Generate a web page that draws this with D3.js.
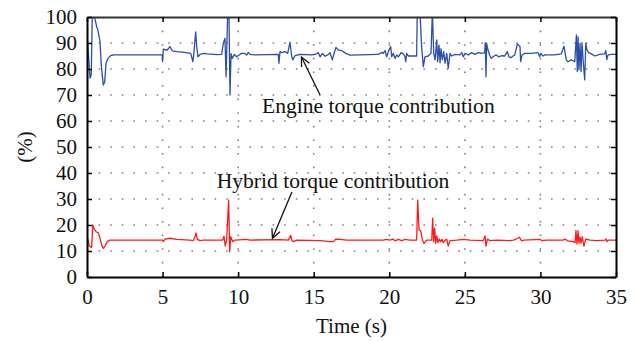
<!DOCTYPE html>
<html>
<head>
<meta charset="utf-8">
<script src="https://cdn.jsdelivr.net/npm/d3@7"></script>
<style>
  body { margin: 0; background: #fff; }
  svg { display: block; font-family: "Liberation Serif", "DejaVu Serif", serif; }
</style>
</head>
<body>
<svg id="chart" width="639" height="342"></svg>
<script>
// torque contribution traces, [time s, percent]
var engineData = [
  [0, 93.8], [0.2, 76.5], [0.28, 77.7], [0.35, 101], [0.46, 101], [0.64, 96.3], [0.72, 95.0],
  [0.86, 90.5], [0.95, 80.9], [1.08, 73.8], [1.17, 75.1], [1.26, 82.2], [1.39, 84.1], [1.56, 85.1],
  [1.79, 85.4], [4.98, 85.4], [5.0, 82.8], [5.05, 87.6], [5.31, 87.3], [5.49, 88.6], [5.64, 87.0],
  [5.97, 86.7], [6.42, 86.4], [6.86, 86.0], [7.01, 82.8], [7.08, 86.7], [7.19, 94.3], [7.26, 88.6],
  [7.34, 84.7], [7.48, 85.6], [7.74, 86.0], [7.96, 85.8], [8.62, 85.5], [8.91, 85.6], [9.02, 89.9],
  [9.13, 91.8], [9.2, 77.0], [9.31, 102], [9.39, 102], [9.46, 70.0], [9.53, 85.9], [9.61, 84.1],
  [9.75, 85.6], [9.9, 84.7], [10.06, 85.4], [10.23, 86.0], [10.45, 86.0], [10.57, 85.4], [10.67, 86.4],
  [10.78, 85.6], [11.12, 85.4], [12.66, 85.6], [12.70, 82.2], [12.77, 86.7], [12.92, 86.3], [13.1, 86.7],
  [13.28, 86.0], [13.43, 90.3], [13.54, 85.1], [13.61, 83.5], [13.76, 85.1], [14.09, 85.6], [14.87, 85.4],
  [15.09, 85.6], [15.3, 86.3], [15.42, 84.7], [15.57, 86.0], [15.75, 84.9], [15.92, 85.4], [16.08, 86.3],
  [16.23, 83.5], [16.36, 86.3], [16.47, 88.3], [16.63, 87.3], [16.85, 87.1], [17.12, 86.0], [17.4, 85.3],
  [19.27, 85.6], [19.5, 86.4], [19.6, 86.0], [19.72, 87.1], [19.83, 84.7], [19.94, 86.7], [20.09, 88.6],
  [20.16, 84.7], [20.27, 86.0], [20.38, 84.1], [20.49, 85.4], [20.6, 84.7], [20.78, 86.3], [20.93, 85.8],
  [21.04, 84.7], [21.09, 82.8], [21.15, 86.0], [21.26, 85.0], [21.81, 85.0], [21.85, 102], [22.03, 102],
  [22.14, 88.6], [22.25, 80.9], [22.36, 84.7], [22.58, 85.0], [22.76, 86.0], [22.85, 102], [22.94, 86.0],
  [23.03, 83.5], [23.14, 91.2], [23.2, 82.8], [23.29, 89.2], [23.36, 82.4], [23.42, 87.8], [23.51, 83.5],
  [23.6, 86.7], [23.69, 82.2], [23.8, 86.0], [23.9, 80.3], [24.02, 86.0], [24.13, 85.0], [24.35, 85.6],
  [24.68, 85.4], [24.79, 86.3], [24.9, 84.7], [25.01, 86.0], [25.23, 85.4], [25.45, 86.3], [25.67, 85.6],
  [25.89, 86.3], [26.09, 86.0], [26.31, 86.3], [26.35, 90.1], [26.4, 77.0], [26.44, 89.9], [26.53, 87.3],
  [26.64, 85.4], [26.75, 84.1], [26.93, 85.0], [27.08, 85.4], [27.24, 84.7], [27.41, 85.1], [27.64, 85.0],
  [27.81, 86.7], [27.92, 84.7], [28.07, 84.4], [28.19, 85.0], [28.3, 85.4], [28.47, 89.6], [28.56, 89.2],
  [28.65, 88.6], [28.69, 82.8], [28.78, 85.4], [28.96, 86.0], [29.4, 86.0], [29.84, 86.3], [29.95, 84.7],
  [30.02, 86.0], [30.17, 85.0], [30.28, 85.4], [30.94, 85.4], [31.38, 85.8], [31.56, 88.8], [31.71, 83.5],
  [31.82, 82.8], [32.04, 83.5], [32.27, 82.8], [32.38, 93.1], [32.44, 79.0], [32.49, 92.3], [32.55, 79.7],
  [32.62, 89.9], [32.69, 79.0], [32.75, 90.1], [32.84, 82.2], [32.93, 75.8], [33.0, 89.9], [33.08, 87.3],
  [33.19, 86.3], [33.37, 85.8], [33.59, 85.0], [33.92, 85.6], [34.25, 85.8], [34.32, 87.1], [34.39, 83.6],
  [34.47, 85.4], [34.69, 85.6], [35, 85.6]
];

var hybridData = [
  [0, 16.0], [0.15, 11.9], [0.31, 11.4], [0.38, 20.0], [0.46, 18.7], [0.6, 17.4], [0.75, 17.0],
  [0.86, 14.9], [0.97, 12.3], [1.08, 11.0], [1.19, 11.9], [1.34, 13.6], [1.52, 14.2], [5.0, 14.2],
  [5.05, 13.6], [5.16, 14.6], [5.49, 14.9], [5.93, 14.5], [6.81, 14.2], [7.03, 14.0], [7.15, 15.5],
  [7.21, 17.0], [7.3, 14.5], [7.48, 14.0], [7.69, 14.2], [8.98, 14.2], [9.06, 15.7], [9.15, 11.9],
  [9.24, 14.2], [9.37, 29.6], [9.44, 9.7], [9.51, 15.5], [9.64, 13.6], [9.79, 14.2], [10.57, 14.5],
  [10.78, 14.2], [12.77, 14.4], [13.32, 14.2], [13.48, 16.0], [13.56, 14.0], [13.65, 13.6], [13.87, 14.2],
  [15.42, 14.0], [16.08, 13.6], [16.3, 13.6], [16.47, 14.6], [16.74, 14.5], [17.18, 14.2], [19.6, 14.2],
  [19.83, 14.5], [20.05, 14.2], [20.23, 14.6], [20.38, 13.9], [20.6, 14.5], [20.82, 14.0], [21.04, 14.5],
  [21.37, 14.2], [21.81, 14.2], [21.88, 29.6], [21.97, 18.1], [22.08, 17.8], [22.19, 14.2], [22.3, 12.9],
  [22.48, 14.2], [22.81, 14.2], [22.87, 22.6], [22.94, 13.6], [23.0, 18.7], [23.07, 12.9], [23.14, 15.8],
  [23.22, 13.2], [23.31, 14.6], [23.4, 13.6], [23.49, 14.5], [23.57, 13.2], [23.69, 14.2], [23.8, 14.5],
  [23.9, 11.9], [24.02, 14.0], [24.46, 14.2], [24.9, 14.5], [25.34, 14.2], [26.22, 14.0], [26.33, 15.8],
  [26.4, 11.9], [26.49, 14.6], [26.66, 14.0], [27.13, 14.2], [28.0, 14.0], [28.21, 14.2], [28.39, 14.6],
  [28.6, 15.3], [28.76, 13.9], [28.91, 14.2], [29.97, 14.5], [30.08, 14.0], [30.41, 14.2], [31.51, 14.2],
  [31.63, 14.6], [31.78, 13.9], [32.18, 13.6], [32.29, 13.2], [32.35, 17.8], [32.42, 12.7], [32.49, 17.8],
  [32.55, 13.0], [32.62, 15.3], [32.69, 13.0], [32.77, 15.5], [32.88, 11.9], [33.0, 14.6], [33.1, 14.5],
  [33.28, 14.2], [33.72, 14.0], [34.27, 14.2], [34.34, 14.6], [34.4, 13.6], [34.49, 14.2], [35, 14.2]
];

var xTicks = [0, 5, 10, 15, 20, 25, 30, 35];
var yTicks = [0, 10, 20, 30, 40, 50, 60, 70, 80, 90, 100];

// annotations: label anchor and arrow (tail -> head) in data units
var notes = [
  { text: 'Engine torque contribution', at: [11.58, 63.1], tail: [15.42, 70.0], head: [14.19, 84.6] },
  { text: 'Hybrid torque contribution', at: [8.58, 34.2], tail: [13.56, 32.7], head: [12.27, 14.9] }
];

var margin = {left: 87, right: 23, top: 17, bottom: 65};
var W = 639, H = 342;
var w = W - margin.left - margin.right, h = H - margin.top - margin.bottom;

var svg = d3.select('#chart');
var g = svg.append('g').attr('transform', 'translate(' + margin.left + ',' + margin.top + ')');

var x = d3.scaleLinear().domain([0, 35]).range([0, w]);
var y = d3.scaleLinear().domain([0, 100]).range([h, 0]);

g.append('clipPath').attr('id', 'clip')
    .append('rect').attr('width', w).attr('height', h);

// dotted grid
g.selectAll('.hgrid').data(yTicks.slice(1, -1)).enter()
    .append('line')
    .attr('x1', 0).attr('x2', w)
    .attr('y1', function(d){return y(d)}).attr('y2', function(d){return y(d)})
    .style('stroke', '#808080').style('stroke-width', 1.6)
    .style('stroke-dasharray', '1.6,10');

g.selectAll('.vgrid').data(xTicks.slice(1, -1)).enter()
    .append('line')
    .attr('y1', h).attr('y2', 0)
    .attr('x1', function(d){return x(d)}).attr('x2', function(d){return x(d)})
    .style('stroke', '#808080').style('stroke-width', 1.6)
    .style('stroke-dasharray', '1.6,12');

// traces
var line = d3.line()
    .x(function(d){return x(d[0])})
    .y(function(d){return y(d[1])});

var traces = g.append('g').attr('clip-path', 'url(#clip)');
traces.append('path').datum(hybridData)
    .attr('d', line)
    .style('fill', 'none').style('stroke', '#ff1a1a')
    .style('stroke-width', 1.3).style('stroke-linejoin', 'round');
traces.append('path').datum(engineData)
    .attr('d', line)
    .style('fill', 'none').style('stroke', '#2b4ea8')
    .style('stroke-width', 1.3).style('stroke-linejoin', 'round');

// axes, ticks inside, mirrored on top and right
var axB = g.append('g').attr('transform', 'translate(0,' + h + ')')
    .call(d3.axisBottom(x).tickValues(xTicks).tickSizeInner(-5).tickSizeOuter(0).tickPadding(12));
var axT = g.append('g')
    .call(d3.axisTop(x).tickValues(xTicks).tickSizeInner(-5).tickSizeOuter(0).tickFormat(''));
var axL = g.append('g')
    .call(d3.axisLeft(y).tickValues(yTicks).tickSizeInner(-5).tickSizeOuter(0).tickPadding(10));
var axR = g.append('g').attr('transform', 'translate(' + w + ',0)')
    .call(d3.axisRight(y).tickValues(yTicks).tickSizeInner(-5).tickSizeOuter(0).tickFormat(''));

[axB, axT, axL, axR].forEach(function(a){
    a.select('.domain').style('stroke', '#000').style('stroke-width', 2);
    a.selectAll('.tick line').style('stroke', '#000').style('stroke-width', 1.5);
    a.selectAll('.tick text')
        .style('font-family', '"Liberation Serif", serif')
        .style('font-size', '21px').style('fill', '#111');
});
axT.select('.domain').style('stroke', '#333');

// axis titles
g.append('text')
    .attr('x', w / 2).attr('y', h + 56)
    .attr('text-anchor', 'middle')
    .style('font-size', '21px').style('fill', '#111')
    .text('Time (s)');

g.append('text')
    .attr('transform', 'translate(' + (25 - margin.left) + ',' + (h / 2) + ') rotate(-90)')
    .attr('text-anchor', 'middle').attr('dy', '0.35em')
    .style('font-size', '21px').style('fill', '#111')
    .text('(%)');

// annotations with open arrowheads
notes.forEach(function(n){
    g.append('text')
        .attr('x', x(n.at[0])).attr('y', y(n.at[1]))
        .style('font-size', '21.6px').style('fill', '#111')
        .text(n.text);

    var x0 = x(n.tail[0]), y0 = y(n.tail[1]);
    var x1 = x(n.head[0]), y1 = y(n.head[1]);
    g.append('line')
        .attr('x1', x0).attr('y1', y0).attr('x2', x1).attr('y2', y1)
        .style('stroke', '#111').style('stroke-width', 1.3);

    var ang = Math.atan2(y1 - y0, x1 - x0), len = 10, spread = 0.45;
    var barbs = [ang + Math.PI - spread, ang + Math.PI + spread].map(function(a){
        return [x1 + len * Math.cos(a), y1 + len * Math.sin(a)];
    });
    g.append('path')
        .attr('d', 'M' + barbs[0] + 'L' + x1 + ',' + y1 + 'L' + barbs[1])
        .style('fill', 'none').style('stroke', '#111').style('stroke-width', 1.3);
});
</script>
</body>
</html>
